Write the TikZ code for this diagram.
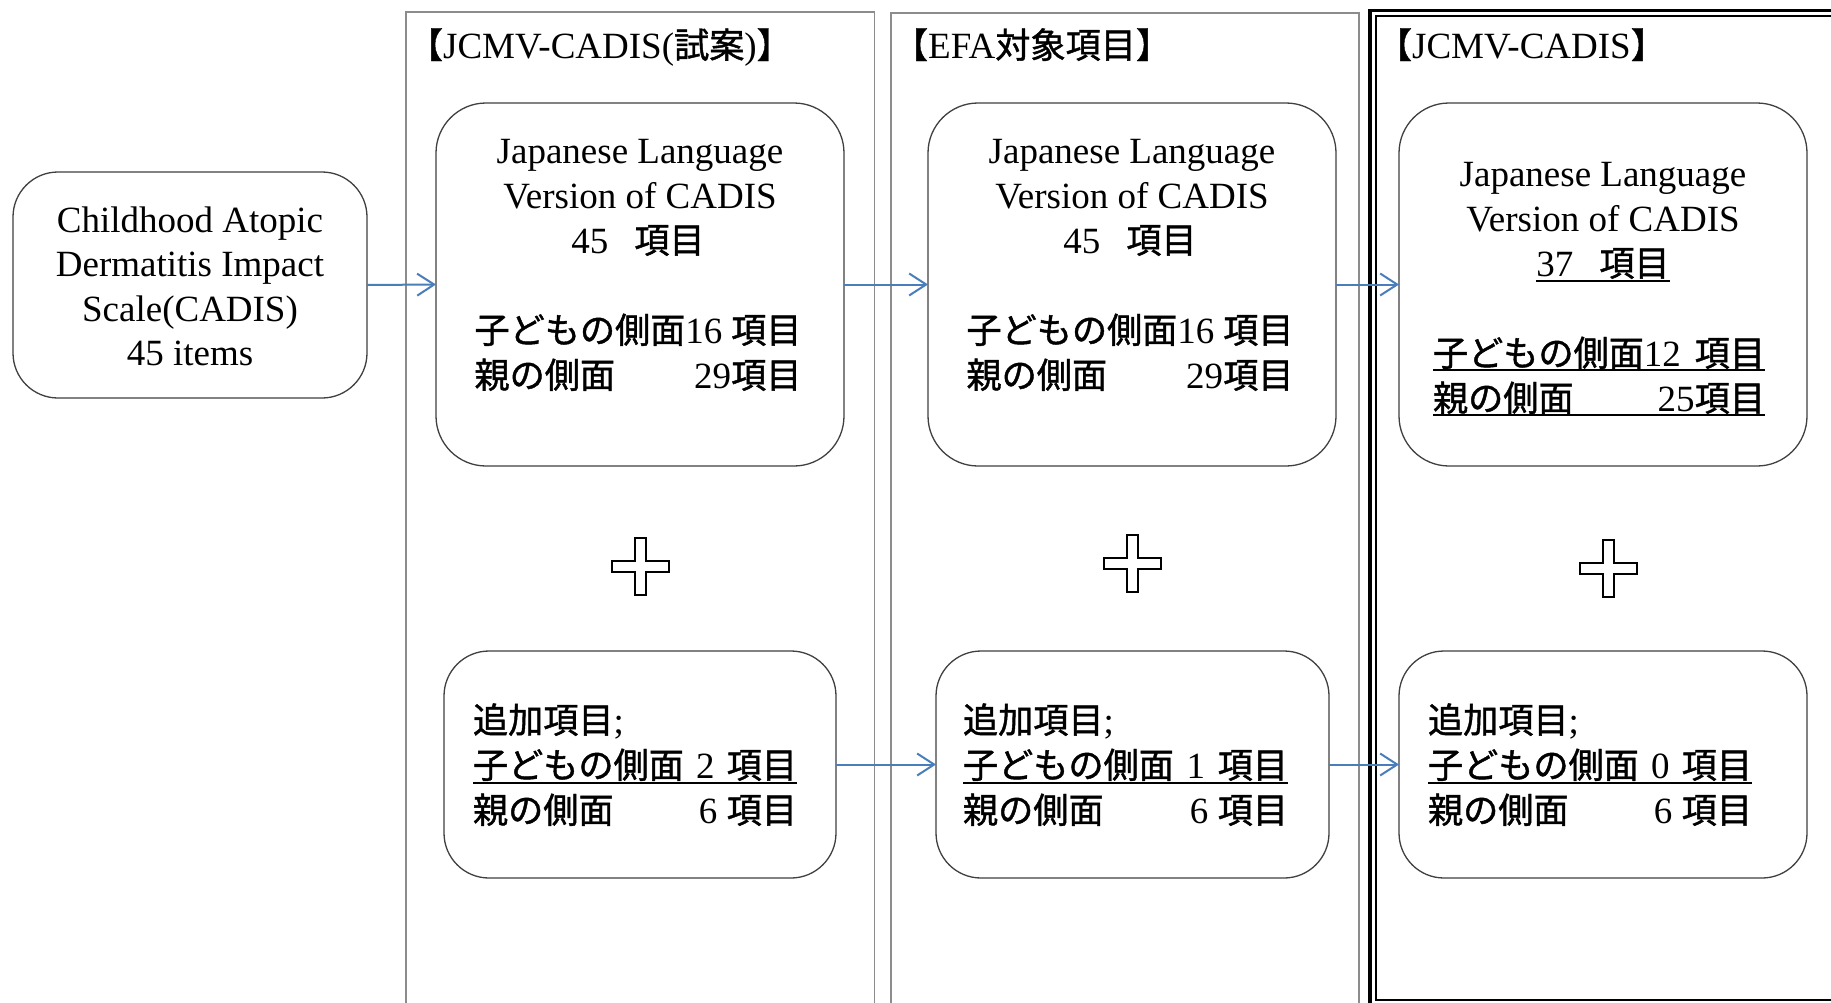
\documentclass[tikz,border=0pt]{standalone}
\usepackage{fontspec}
\setmainfont{Liberation Serif}
\newfontfamily\cjk[Scale=0.95,FakeBold=1.2]{Noto Sans CJK JP}
\usetikzlibrary{arrows.meta}
\definecolor{framegray}{HTML}{8C8C8C}
\definecolor{boxgray}{HTML}{404040}
\definecolor{arrowblue}{HTML}{4A7EBB}
\newcommand\jp[1]{{\cjk #1}}
\begin{document}
\begin{tikzpicture}[x=1pt,y=-1pt,
  every node/.style={inner sep=0pt, outer sep=0pt},
  rbox/.style={draw=boxgray, line width=1.3pt, fill=white},
  txt/.style={font=\fontsize{37}{45}\selectfont, anchor=base},
  txtl/.style={font=\fontsize{37}{45}\selectfont, anchor=base west},
  arr/.style={draw=arrowblue, line width=2pt, -{Straight Barb[length=17pt,width=22pt]}},
  frame/.style={draw=framegray, line width=1.5pt},
  uline/.style={line width=2.5pt},
  plussign/.pic={\draw[line width=2pt, fill=white] (-5.5,-28.5) -- (5.5,-28.5) -- (5.5,-5.5) -- (28.5,-5.5) -- (28.5,5.5) -- (5.5,5.5) -- (5.5,28.5) -- (-5.5,28.5) -- (-5.5,5.5) -- (-28.5,5.5) -- (-28.5,-5.5) -- (-5.5,-5.5) -- cycle;}
]
\useasboundingbox (0,0) rectangle (1831,1002);
\fill[white] (0,0) rectangle (1831,1002);
\begin{scope}
\clip (0,0) rectangle (1831,1002);
% column frames
\draw[frame] (406,1010) -- (406,12) -- (874.5,12) -- (874.5,1010);
\draw[frame] (891,1010) -- (891,13) -- (1359,13) -- (1359,1010);
\draw[line width=3.5pt] (1370,1010) -- (1370,10.5) -- (1840,10.5);
\draw[line width=2pt] (1840,15.5) -- (1376,15.5) -- (1376,1000) -- (1840,1000);
\end{scope}

% titles
\node[txtl] (t1) at (408,58) {\jp{【}JCMV-CADIS(\jp{試案})\jp{】}};
\node[txtl] (t2) at (893,58) {\jp{【}EFA\jp{対象項目】}};
\node[txtl] (t3) at (1377,58) {\jp{【}JCMV-CADIS\jp{】}};

% boxes
\node[rbox, rounded corners=45pt, minimum width=354pt, minimum height=226pt] (cadis) at (190,285) {};
\node[rbox, rounded corners=50pt, minimum width=408pt, minimum height=363pt] (jl1) at (640,284.5) {};
\node[rbox, rounded corners=50pt, minimum width=408pt, minimum height=363pt] (jl2) at (1132,284.5) {};
\node[rbox, rounded corners=50pt, minimum width=408pt, minimum height=363pt] (jl3) at (1603,284.5) {};
\node[rbox, rounded corners=45pt, minimum width=392pt, minimum height=227pt] (add1) at (640,764.5) {};
\node[rbox, rounded corners=45pt, minimum width=393pt, minimum height=227pt] (add2) at (1132.5,764.5) {};
\node[rbox, rounded corners=45pt, minimum width=408pt, minimum height=227pt] (add3) at (1603,764.5) {};

% arrows
\draw[arr] (cadis.east) -- (jl1.west);
\draw[arr] (jl1.east) -- (jl2.west);
\draw[arr] (jl2.east) -- (jl3.west);
\draw[arr] (add1.east) -- (add2.west);
\draw[arr] (add2.east) -- (add3.west);

% plus signs
\pic at (640,566) {plussign};
\pic at (1132,563) {plussign};
\pic at (1608,568) {plussign};

% CADIS text
\node[txt] (c1) at (190,232) {Childhood Atopic};
\node[txt] (c2) at (190,276.5) {Dermatitis Impact};
\node[txt] (c3) at (190,321) {Scale(CADIS)};
\node[txt] (c4) at (190,365) {45 items};

% column 1 main
\node[txt] (a1) at (640,163) {Japanese Language};
\node[txt] (a2) at (640,208) {Version of CADIS};
\node[txt] (a3) at (638,253) {45\hspace*{26pt}\jp{項目}};
\node[txt] (a4) at (638,343) {\makebox[327pt][s]{\jp{子どもの側面}16 \jp{項目}}};
\node[txt] (a5) at (638,388) {\makebox[327pt][s]{\jp{親の側面}\hfill 29\jp{項目}}};

% column 2 main
\node[txt] (b1) at (1132,163) {Japanese Language};
\node[txt] (b2) at (1132,208) {Version of CADIS};
\node[txt] (b3) at (1130,253) {45\hspace*{26pt}\jp{項目}};
\node[txt] (b4) at (1130,343) {\makebox[327pt][s]{\jp{子どもの側面}16 \jp{項目}}};
\node[txt] (b5) at (1130,388) {\makebox[327pt][s]{\jp{親の側面}\hfill 29\jp{項目}}};

% column 3 main
\node[txt] (d1) at (1603,186) {Japanese Language};
\node[txt] (d2) at (1603,231) {Version of CADIS};
\node[txt] (d3) at (1603,276) {37\hspace*{26pt}\jp{項目}};
\node[txt] (d4) at (1599,366) {\makebox[332pt][s]{\jp{子どもの側面}12 \jp{項目}}};
\node[txt] (d5) at (1599,411) {\makebox[332pt][s]{\jp{親の側面}\hfill 25\jp{項目}}};
\draw[uline] ([yshift=-5pt]d3.base west) -- ([yshift=-5pt]d3.base east);
\draw[uline] ([yshift=-4pt]d4.base west) -- ([yshift=-4pt]d4.base east);
\draw[uline] ([yshift=-4pt]d5.base west) -- ([yshift=-4pt]d5.base east);

% additional items
\node[txtl] (e1) at (473,733) {\jp{追加項目};};
\node[txtl] (e2) at (473,778) {\makebox[324pt][s]{\jp{子どもの側面} 2 \jp{項目}}};
\node[txtl] (e3) at (473,823) {\makebox[324pt][s]{\jp{親の側面}\hfill 6 \jp{項目}}};
\draw[uline] ([yshift=-5pt]e2.base west) -- ([yshift=-5pt]e2.base east);

\node[txtl] (f1) at (963,733) {\jp{追加項目};};
\node[txtl] (f2) at (963,778) {\makebox[325pt][s]{\jp{子どもの側面} 1 \jp{項目}}};
\node[txtl] (f3) at (963,823) {\makebox[325pt][s]{\jp{親の側面}\hfill 6 \jp{項目}}};
\draw[uline] ([yshift=-5pt]f2.base west) -- ([yshift=-5pt]f2.base east);

\node[txtl] (g1) at (1428,733) {\jp{追加項目};};
\node[txtl] (g2) at (1428,778) {\makebox[324pt][s]{\jp{子どもの側面} 0 \jp{項目}}};
\node[txtl] (g3) at (1428,823) {\makebox[324pt][s]{\jp{親の側面}\hfill 6 \jp{項目}}};
\draw[uline] ([yshift=-5pt]g2.base west) -- ([yshift=-5pt]g2.base east);
\end{tikzpicture}
\end{document}
